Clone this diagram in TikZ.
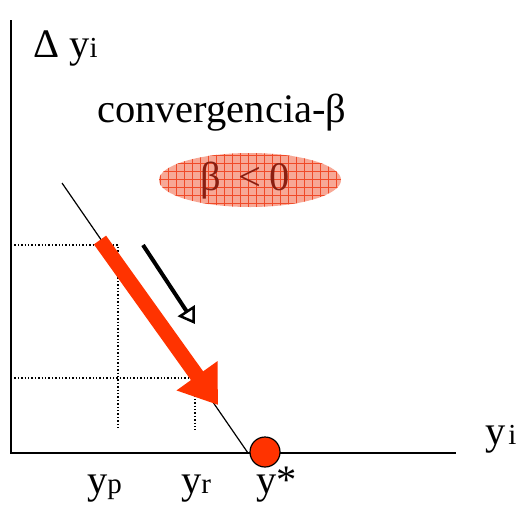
\documentclass[tikz,border=0pt]{standalone}
\usepackage{fontspec}
\setmainfont{Liberation Serif}
\usetikzlibrary{patterns.meta,arrows.meta,shapes.geometric}
\definecolor{arrred}{HTML}{FF3300}
\definecolor{ellfill}{HTML}{F7A896}
\definecolor{gridred}{HTML}{F04A28}
\definecolor{betacol}{HTML}{8A1E10}
\tikzset{
  axis/.style={line width=2.2pt},
  guide/.style={line width=1.4pt, dotted},
  lbl/.style={font=\fontsize{40.5}{45}\selectfont, inner sep=0pt, anchor=base west},
}
\newcommand{\smallsub}{\fontsize{29}{33}\selectfont}
\begin{document}
\begin{tikzpicture}[x=1pt,y=-1pt]
\useasboundingbox (0,0) rectangle (521,515);
% axes
\coordinate (o) at (11,453);
\coordinate (ytop) at (11,20);
\coordinate (xend) at (456,453);
\draw[axis] (ytop) -- (o) -- (xend);
% guides
\coordinate (g1a) at (11,245); \coordinate (g1b) at (118,245); \coordinate (g1c) at (118,428);
\coordinate (g2a) at (11,378); \coordinate (g2b) at (195,378);
\coordinate (g3a) at (195,392); \coordinate (g3b) at (195,430);
\draw[guide] (g1a) -- (g1b) -- (g1c);
\draw[guide] (g2a) -- (g2b);
\draw[guide] (g3a) -- (g3b);
% line
\coordinate (la) at (62,183); \coordinate (lb) at (248,453);
\draw[line width=1.2pt] (la) -- (lb);
% red arrow
\coordinate (ra) at (100,240); \coordinate (rb) at (218,405);
\draw[arrred, line width=15pt, -{Triangle[length=36pt,width=48pt]}] (ra) -- (rb);
% black arrow
\coordinate (ba) at (143,245); \coordinate (bb) at (195,324);
\draw[line width=4pt, -{Triangle[open,length=16pt,width=20pt,line width=2.5pt]}] (ba) -- (bb);
% equilibrium
\node[circle, draw, line width=1.2pt, fill=arrred, minimum size=30pt, inner sep=0pt] (eq) at (265,452) {};
% ellipse
\node[ellipse, minimum width=182pt, minimum height=54pt, fill=ellfill, inner sep=0pt] (ell) at (250,180) {};
\fill[pattern={Lines[angle=0,distance=8pt,line width=0.5pt]}, pattern color=gridred] (250,180) ellipse [x radius=91pt, y radius=27pt];
\fill[pattern={Lines[angle=90,distance=8pt,line width=0.5pt]}, pattern color=gridred] (250,180) ellipse [x radius=91pt, y radius=27pt];
\node[lbl, text=betacol] (beta) at (200,190) {β\hspace{18pt}<\hspace{8pt}0};
% labels
\node[lbl] (dy) at (33,57) {Δ y\smallsub i};
\node[lbl] (conv) at (97,122) {convergencia-β};
\node[lbl] (yi) at (485,444) {y\hspace{3pt}\smallsub i};
\node[lbl] (yp) at (87,493) {y\smallsub p};
\node[lbl] (yr) at (181,493) {y\smallsub r};
\node[lbl] (ys) at (256,493) {y*};
\end{tikzpicture}
\end{document}
